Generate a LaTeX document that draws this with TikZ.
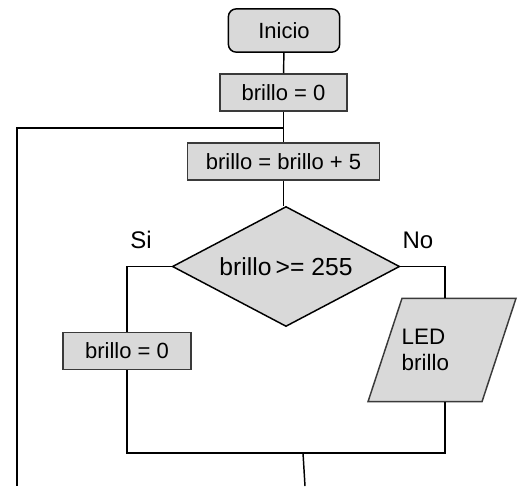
\documentclass[tikz,border=0pt]{standalone}
\usepackage{fontspec}
\setmainfont{Liberation Sans}
\usetikzlibrary{shapes.geometric}
\definecolor{boxfill}{HTML}{D9D9D9}
\definecolor{boxline}{HTML}{3A3A3A}
\begin{document}
\begin{tikzpicture}[x=0.75pt,y=-0.75pt,line width=1.1pt,
  startbox/.style={draw=black,fill=boxfill,rounded corners=6pt,inner sep=0pt,font=\fontsize{16.5pt}{19pt}\selectfont},
  procbox/.style={draw=boxline,fill=boxfill,inner sep=0pt,font=\fontsize{16.5pt}{19pt}\selectfont},
  decbox/.style={diamond,draw=black,fill=boxfill,inner sep=0pt,aspect=2,font=\fontsize{18.5pt}{21pt}\selectfont},
  iobox/.style={draw=boxline,fill=boxfill},
  lbl/.style={inner sep=0pt,font=\fontsize{18pt}{21pt}\selectfont},
  iotext/.style={inner sep=0pt,align=left,font=\fontsize{16.8pt}{19.5pt}\selectfont}]
\useasboundingbox (0,0) rectangle (530,486);
% nodes
\node[startbox,minimum width=83.5pt,minimum height=32.5pt] (ini) at (284,30.5) {Inicio};
\node[procbox,minimum width=95.5pt,minimum height=28pt] (b0) at (283.5,92.5) {brillo = 0};
\coordinate (loop) at (283.5,128);
\coordinate (loopl) at (17,128);
\coordinate (loopb) at (17,486);
\node[procbox,minimum width=144pt,minimum height=28pt] (b5) at (283.5,161.5) {brillo = brillo + 5};
\node[decbox,minimum width=170.5pt,minimum height=90pt] (dec) at (286,266.5) {\raisebox{-2pt}{brillo\,>= 255}};
\node[lbl] (si) at (141,240) {Si};
\node[lbl] (no) at (418,240) {No};
\node[procbox,minimum width=96pt,minimum height=27.5pt] (z0) at (127,351) {brillo = 0};
% parallelogram
\coordinate (pa) at (402,298.3);
\coordinate (pb) at (516,298.3);
\coordinate (pc) at (482,401.7);
\coordinate (pd) at (368,401.7);
\coordinate (ptop) at (445,298.3);
\coordinate (pbot) at (445,401.7);
\path[iobox] (pa) -- (pb) -- (pc) -- (pd) -- cycle;
\node[iotext,anchor=west] (led) at (401,349.5) {LED\\brillo};
% junction
\coordinate (jl) at (127,453);
\coordinate (jr) at (445,453);
\coordinate (jm) at (303,453);
\coordinate (out) at (305,486);
% connectors
\draw (ini) -- (b0);
\draw (b0) -- (b5);
\draw (loop) -- (loopl) -- (loopb);
\draw (b5.south) -- (b5.south |- dec.north);
\draw (dec.west) -| (z0.north);
\draw (dec.east) -| (ptop);
\draw (z0.south) -- (jl) -- (jr) -- (pbot);
\draw (jm) -- (out);
\end{tikzpicture}
\end{document}
